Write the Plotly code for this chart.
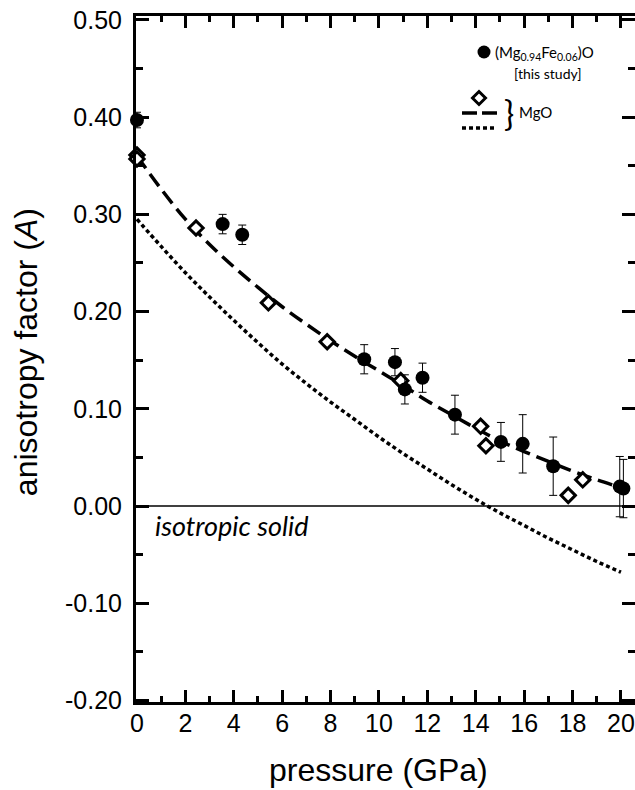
import plotly.graph_objects as go

# ---- data ----
fe_p = [0.0, 3.54, 4.35, 9.39, 10.66, 11.07, 11.8, 13.14, 15.04, 15.94, 17.2, 19.95, 20.1]
fe_a = [0.397, 0.290, 0.279, 0.151, 0.148, 0.120, 0.132, 0.094, 0.066, 0.064, 0.041, 0.020, 0.018]
fe_err = [0.008, 0.010, 0.010, 0.015, 0.014, 0.015, 0.015, 0.020, 0.020, 0.030, 0.030, 0.031, 0.030]

mgo_p = [0.0, 0.0, 2.44, 5.43, 7.86, 10.9, 14.2, 14.42, 17.82, 18.42]
mgo_a = [0.361, 0.357, 0.286, 0.209, 0.169, 0.129, 0.082, 0.062, 0.011, 0.027]

curve_p = [0, 1, 2, 3, 4, 5, 6, 7, 8, 9, 10, 11, 12, 13, 14, 15, 16, 17, 18, 19, 20]
dash_a = [0.360, 0.326, 0.295, 0.269, 0.246, 0.225, 0.205, 0.187, 0.170, 0.154, 0.139,
          0.124, 0.108, 0.094, 0.080, 0.067, 0.056, 0.046, 0.036, 0.027, 0.019]
dot_a = [0.295, 0.267, 0.240, 0.215, 0.191, 0.168, 0.146, 0.126, 0.107, 0.089, 0.071,
         0.054, 0.038, 0.022, 0.007, -0.007, -0.020, -0.033, -0.045, -0.057, -0.068]

x_ticks = [0, 2, 4, 6, 8, 10, 12, 14, 16, 18, 20]
y_ticks = [-0.20, -0.10, 0.00, 0.10, 0.20, 0.30, 0.40, 0.50]
y_tick_text = ["-0.20", "-0.10", "0.00", "0.10", "0.20", "0.30", "0.40", "0.50"]

FONT = "Liberation Sans, Arial, sans-serif"
LFONT = "Lato, Open Sans, sans-serif"

fig = go.Figure()

fig.add_trace(go.Scatter(x=curve_p, y=dot_a, mode="lines", line_shape="spline",
                         line=dict(color="black", width=3.5, dash="4px,3px"),
                         showlegend=False, hoverinfo="skip"))
fig.add_trace(go.Scatter(x=curve_p, y=dash_a, mode="lines", line_shape="spline",
                         line=dict(color="black", width=3.5, dash="15px,7px"),
                         showlegend=False, hoverinfo="skip"))
fig.add_trace(go.Scatter(x=mgo_p, y=mgo_a, mode="markers", cliponaxis=False,
                         marker=dict(symbol="diamond", size=11, color="white",
                                     line=dict(color="black", width=3)),
                         showlegend=False))
fig.add_trace(go.Scatter(x=fe_p, y=fe_a, mode="markers", cliponaxis=False,
                         marker=dict(symbol="circle", size=14, color="black"),
                         error_y=dict(type="data", array=fe_err, visible=True,
                                      color="black", thickness=1, width=4),
                         showlegend=False))

# legend glyphs on a page-pixel overlay axis
fig.add_trace(go.Scatter(x=[484], y=[52], xaxis="x2", yaxis="y2", mode="markers",
                         marker=dict(symbol="circle", size=13, color="black"),
                         showlegend=False, hoverinfo="skip"))
fig.add_trace(go.Scatter(x=[479], y=[98], xaxis="x2", yaxis="y2", mode="markers",
                         marker=dict(symbol="diamond", size=10, color="white",
                                     line=dict(color="black", width=3)),
                         showlegend=False, hoverinfo="skip"))
fig.add_trace(go.Scatter(x=[462, 497], y=[113, 113], xaxis="x2", yaxis="y2", mode="lines",
                         line=dict(color="black", width=3.5, dash="15px,5px"),
                         showlegend=False, hoverinfo="skip"))
fig.add_trace(go.Scatter(x=[462, 497], y=[128, 128], xaxis="x2", yaxis="y2", mode="lines",
                         line=dict(color="black", width=3.5, dash="4px,3px"),
                         showlegend=False, hoverinfo="skip"))

fig.add_shape(type="line", xref="paper", x0=0, x1=1, yref="y", y0=0, y1=0,
              line=dict(color="black", width=1.5))

ann = [
    dict(x=493, y=53, text="(Mg<sub>0.94</sub>Fe<sub>0.06</sub>)O", xanchor="left",
         font=dict(size=15, family=LFONT)),
    dict(x=548, y=73, text="[this study]", xanchor="center",
         font=dict(size=14, family=LFONT)),
    dict(x=509, y=112, text="}", xanchor="center",
         font=dict(size=34, family=LFONT)),
    dict(x=517, y=112, text="MgO", xanchor="left",
         font=dict(size=15, family=LFONT)),
    dict(x=153, y=525, text="<i>isotropic solid</i>", xanchor="left",
         font=dict(size=27, family=LFONT)),
]
for a in ann:
    fig.add_annotation(xref="x2", yref="y2", showarrow=False, yanchor="middle",
                       font_color="black", **a)

# axis titles (paper coords, placed outside the plot area)
fig.add_annotation(xref="paper", yref="paper", x=0.485, y=-0.099, text="pressure (GPa)",
                   showarrow=False, xanchor="center", yanchor="middle",
                   font=dict(size=32, family=FONT, color="black"))
fig.add_annotation(xref="paper", yref="paper", x=-0.2204, y=0.51,
                   text="anisotropy factor (<i>A</i>)", textangle=-90,
                   showarrow=False, xanchor="center", yanchor="middle",
                   font=dict(size=32, family=FONT, color="black"))

axis_common = dict(showgrid=False, zeroline=False, showline=True, linecolor="black",
                   linewidth=3, mirror="ticks", ticks="inside", tickcolor="black",
                   tickwidth=3, ticklabeloverflow="allow", automargin=False,
                   tickfont=dict(size=25, family=FONT, color="black"))

fig.update_layout(
    width=635, height=790,
    margin=dict(l=136, r=0, t=16, b=88, autoexpand=False),
    paper_bgcolor="white", plot_bgcolor="white",
    xaxis=dict(range=[-0.04, 20.58], tickvals=x_ticks, ticklen=12,
               minor=dict(dtick=1, ticklen=6, tickwidth=2.5, ticks="inside", tickcolor="black"),
               ticklabelstandoff=-3, **axis_common),
    yaxis=dict(range=[-0.2015, 0.504], tickvals=y_ticks, ticktext=y_tick_text, ticklen=13,
               minor=dict(dtick=0.05, tick0=0, ticklen=7, tickwidth=2.5, ticks="inside",
                          tickcolor="black"),
               ticklabelstandoff=6, **axis_common),
    xaxis2=dict(range=[136, 635], overlaying="x", visible=False, fixedrange=True),
    yaxis2=dict(range=[702, 16], overlaying="y", visible=False, fixedrange=True),
)

fig.write_html("out.html", config={"displayModeBar": False},
               post_script="document.body.style.margin='0';document.body.style.overflow='hidden';")
